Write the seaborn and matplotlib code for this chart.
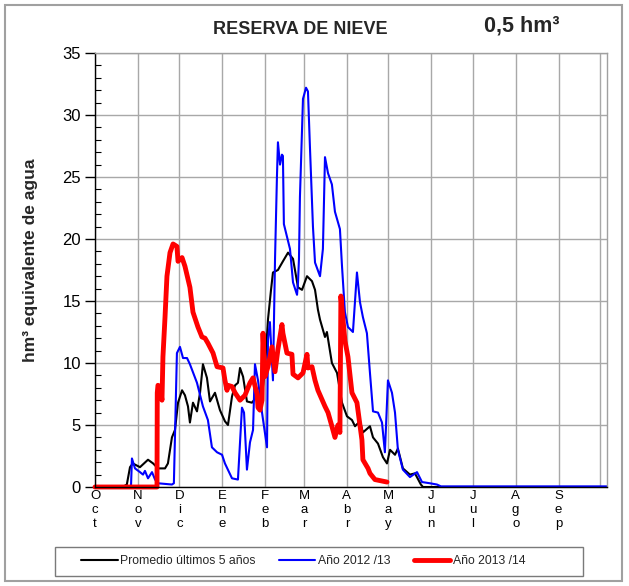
import matplotlib
matplotlib.use("Agg")
import matplotlib.pyplot as plt
import seaborn as sns
import pandas as pd
from matplotlib.patches import Rectangle
from matplotlib.lines import Line2D

# ---------------- data ----------------
months = ["Oct", "Nov", "Dic", "Ene", "Feb", "Mar", "Abr", "May", "Jun", "Jul", "Ago", "Sep"]
month_start_day = [0, 31, 61, 92, 123, 151, 182, 212, 243, 273, 304, 335, 365]

series_labels = ["Promedio últimos 5 años", "Año 2012 /13", "Año 2013 /14"]

prom_day = [0, 20, 23, 25.3, 27.3, 32.5, 38.3, 42.0, 45.5, 50.6, 52.7, 55.6, 57.8, 60.0, 62.9,
            65.0, 67.2, 68.6, 70.8, 73.7, 75.9, 78.0, 80.9, 83.1, 86.7, 90.3, 93.9, 96.1, 99.0,
            101.2, 103.3, 104.8, 107.0, 109.8, 113.4, 117.1, 120.7, 122.8, 125.0, 127.2, 128.6,
            132.2, 135.8, 139.5, 143.1, 146.7, 149.6, 153.2, 156.8, 159.0, 161.1, 162.6, 166.2,
            167.6, 171.2, 174.9, 178.5, 182.1, 185.7, 187.9, 191.5, 193.6, 198.7, 200.9, 204.5,
            208.1, 211.0, 213.2, 216.8, 218.9, 222.5, 227.6, 231.2, 235.5, 237.0, 370]
prom_val = [0, 0, 0.2, 1.6, 1.9, 1.6, 2.2, 1.9, 1.5, 1.5, 1.9, 4.0, 4.6, 6.8, 7.8,
            7.4, 6.5, 5.2, 6.8, 6.1, 7.6, 9.9, 8.8, 6.9, 7.6, 6.2, 5.3, 5.0, 7.3,
            8.2, 8.4, 9.6, 8.9, 6.9, 6.8, 7.3, 7.4, 9.5, 13.5, 15.9, 17.3,
            17.5, 18.2, 18.9, 18.4, 16.1, 15.9, 17.0, 16.6, 15.9, 14.3, 13.5, 12.1,
            12.5, 10.0, 9.2, 6.8, 5.7, 5.4, 4.9, 5.3, 4.4, 4.9, 4.0, 3.5,
            2.4, 1.9, 3.0, 2.6, 3.1, 1.5, 1.0, 1.1, 0.2, 0, 0]

y1213_day = [0, 26.0, 26.7, 28.9, 32.5, 34.7, 36.1, 38.3, 41.2, 43.4, 45.5, 55.6, 57.0, 59.2,
             61.4, 63.6, 66.5, 68.6, 73.7, 78.0, 81.6, 84.5, 88.2, 91.8, 93.9, 99.0, 103.3,
             106.2, 107.7, 109.8, 112.0, 114.2, 115.6, 117.8, 120.7, 124.3, 125.0, 126.4,
             128.6, 130.1, 131.5, 132.2, 133.7, 135.1, 135.8, 136.5, 138.7, 140.9, 143.1,
             146.0, 146.7, 147.4, 148.1, 150.3, 152.5, 153.9, 155.3, 157.5, 159.0, 162.6,
             164.7, 166.2, 168.4, 171.2, 173.4, 177.0, 178.5, 180.6, 182.8, 186.4, 189.3,
             191.5, 193.6, 196.5, 198.7, 200.9, 204.5, 207.4, 209.5, 211.7, 214.6, 216.8,
             218.9, 222.5, 227.6, 232.7, 236.3, 242.1, 247.1, 250.0, 370]
y1213_val = [0, 0, 2.3, 1.5, 1.2, 1.0, 1.3, 0.7, 1.2, 0.6, 0.3, 0.2, 0.3, 10.8,
             11.3, 10.4, 10.4, 9.9, 8.4, 6.5, 5.4, 3.2, 2.8, 2.6, 1.9, 0.7, 0.6,
             6.4, 6.0, 1.4, 3.6, 4.6, 9.9, 8.6, 6.0, 3.2, 11.9, 13.3,
             8.6, 18.4, 25.1, 27.8, 26.0, 26.8, 26.7, 21.2, 20.2, 19.2, 16.5,
             15.5, 16.5, 18.4, 23.4, 31.3, 32.2, 31.9, 27.5, 21.0, 18.1, 17.0,
             19.2, 26.6, 25.3, 24.4, 22.2, 20.8, 17.8, 14.1, 12.9, 12.5, 17.3,
             14.9, 13.7, 12.4, 9.2, 6.1, 6.0, 5.2, 2.8, 8.6, 7.6, 6.0,
             3.0, 1.4, 0.8, 1.2, 0.4, 0.3, 0.2, 0.05, 0.05]

y1314_day = [0, 44.8, 45.0, 45.5, 47.0, 48.4, 49.1, 50.6, 52.0, 54.2, 56.4, 59.2, 60.0, 62.9,
             65.0, 68.6, 70.8, 74.4, 77.3, 79.5, 81.6, 85.3, 88.2, 92.5, 93.9, 95.4, 96.1,
             99.0, 101.2, 104.8, 108.4, 112.0, 114.2, 117.1, 117.8, 119.2, 120.7, 121.4,
             122.8, 125.0, 127.9, 130.1, 132.2, 135.1, 135.8, 138.7, 142.3, 143.1, 146.7,
             150.3, 153.2, 153.9, 156.8, 159.0, 161.1, 166.2, 168.4, 171.2, 173.4, 175.6,
             177.0, 177.7, 180.6, 182.8, 185.7, 189.3, 192.9, 193.6, 197.3, 198.7, 202.3, 211.0]
y1314_val = [0, 0, 7.6, 8.2, 8.1, 7.0, 10.5, 13.7, 17.0, 18.9, 19.6, 19.4, 18.2, 18.5,
             17.8, 16.1, 14.1, 12.9, 12.1, 12.0, 11.6, 10.8, 9.7, 9.6, 8.6, 7.8, 8.2,
             8.1, 7.6, 7.0, 7.4, 8.4, 8.8, 7.5, 6.4, 6.2, 7.0, 12.4,
             8.9, 9.7, 11.3, 9.3, 11.1, 13.1, 12.4, 10.8, 10.7, 9.1, 8.8,
             9.2, 10.7, 9.6, 9.7, 8.6, 7.8, 6.5, 6.0, 4.9, 4.0, 5.0,
             4.4, 15.4, 11.8, 10.5, 7.6, 6.8, 3.8, 2.2, 1.5, 1.1, 0.6, 0.4]

# ---------------- style ----------------
sns.set_theme(style="white")
plt.rcParams["font.family"] = ["Liberation Sans", "DejaVu Sans"]

W, H = 629, 586
fig = plt.figure(figsize=(W / 100, H / 100), dpi=100)
ax = fig.add_axes([95 / W, 1 - 487 / H, (607 - 95) / W, (487 - 53) / H])

colors = ["#000000", "#0000ff", "#ff0000"]
widths = [1.5, 1.5, 3.5]
datasets = [(prom_day, prom_val), (y1213_day, y1213_val), (y1314_day, y1314_val)]
for (d, v), c, lw in zip(datasets, colors, widths):
    df = pd.DataFrame({"day": d, "val": v})
    sns.lineplot(data=df, x="day", y="val", color=c, linewidth=lw, estimator=None,
                 sort=False, ax=ax, clip_on=False, solid_joinstyle="round")

ax.set_xlim(0, 370)
ax.set_ylim(0, 35)
ax.set_xlabel("")
ax.set_ylabel("")

ax.set_xticks(month_start_day)
ax.set_xticklabels(["\n".join(m) for m in months] + [""])
mid = [(month_start_day[i] + month_start_day[i + 1]) / 2 for i in range(12)]
ax.set_xticks(mid, minor=True)
ax.set_yticks(range(0, 36, 5))
ax.set_yticks(range(0, 36), minor=True)

ax.tick_params(axis="x", which="major", length=0, pad=2, labelsize=9.5, colors="black")
ax.tick_params(axis="x", which="minor", direction="in", length=4, width=0.8, color="black")
ax.tick_params(axis="y", which="major", direction="out", length=7, width=1, pad=3,
               labelsize=12, colors="black", left=True)
ax.tick_params(axis="y", which="minor", direction="in", length=4, width=0.8, color="black", left=True)
for lab in ax.get_xticklabels():
    lab.set_linespacing(1.22)

ax.grid(True, which="major", color="#a8a8a8", linewidth=1.0)
ax.set_axisbelow(True)
for s in ["left", "bottom"]:
    ax.spines[s].set_color("black")
    ax.spines[s].set_linewidth(1.0)
for s in ["top", "right"]:
    ax.spines[s].set_color("#a0a0a0")
    ax.spines[s].set_linewidth(1.0)

# texts
fig.text(300 / W, 1 - 30 / H, "RESERVA DE NIEVE", ha="center", va="center",
         fontsize=13, fontweight="bold")
fig.text(522 / W, 1 - 26 / H, "0,5 hm³", ha="center", va="center",
         fontsize=15.5, fontweight="bold")
fig.text(30 / W, 1 - 260 / H, "hm³ equivalente de agua", ha="center", va="center",
         rotation=90, fontsize=12.5, fontweight="bold")

# legend
handles = [Line2D([], [], color=c, lw=lw) for c, lw in zip(colors, widths)]
fig.legend(handles, series_labels, loc="center", bbox_to_anchor=(303 / W, 1 - 561 / H),
           ncol=3, frameon=False, fontsize=8.8, handlelength=3.0, handletextpad=0.2,
           columnspacing=1.9)
fig.patches.append(Rectangle((55 / W, 1 - 576 / H), (583 - 55) / W, (576 - 547) / H,
                             transform=fig.transFigure, fill=False, edgecolor="#7a7a7a", lw=1.0))
fig.patches.append(Rectangle((5 / W, 1 - 581 / H), (622 - 5) / W, (581 - 5) / H,
                             transform=fig.transFigure, fill=False, edgecolor="#a0a0a0", lw=1.5))

fig.savefig("out.png", dpi=100)
